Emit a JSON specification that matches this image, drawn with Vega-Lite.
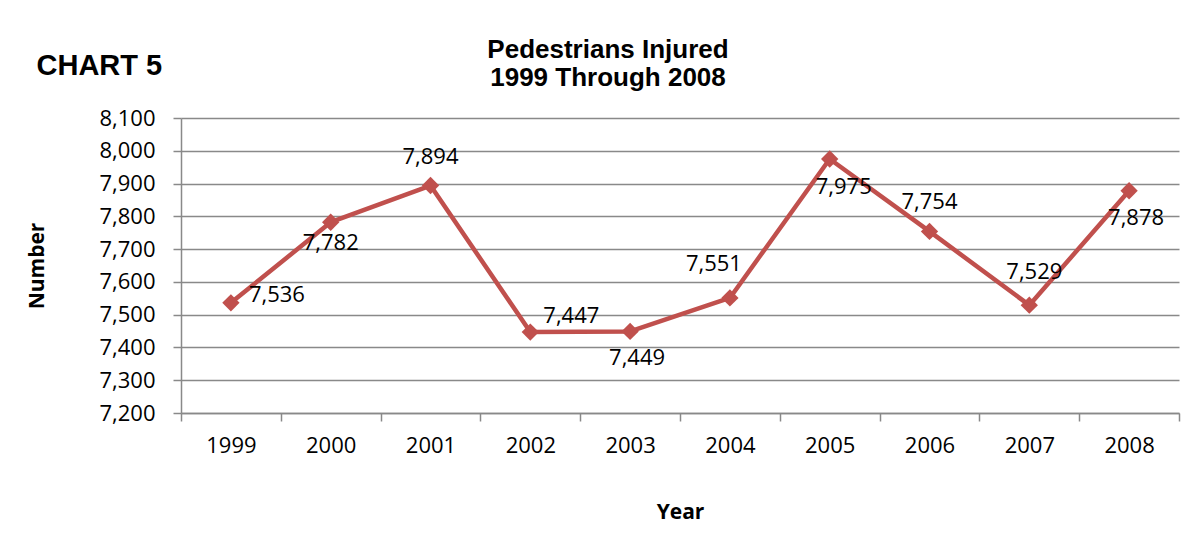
{
  "$schema": "https://vega.github.io/schema/vega-lite/v6.json",
  "width": 998,
  "height": 295,
  "autosize": {"type": "none"},
  "padding": {"left": 181, "top": 118, "right": 17, "bottom": 124},
  "background": "white",
  "config": {"view": {"stroke": null}},
  "title": {
    "text": ["Pedestrians Injured", "1999 Through 2008"],
    "anchor": "middle",
    "frame": "group",
    "dx": -72,
    "offset": -40,
    "font": "Liberation Sans",
    "fontSize": 26,
    "fontWeight": "bold",
    "lineHeight": 28,
    "color": "black"
  },
  "data": {
    "values": [
      {"year": "1999", "injured": 7536},
      {"year": "2000", "injured": 7782},
      {"year": "2001", "injured": 7894},
      {"year": "2002", "injured": 7447},
      {"year": "2003", "injured": 7449},
      {"year": "2004", "injured": 7551},
      {"year": "2005", "injured": 7975},
      {"year": "2006", "injured": 7754},
      {"year": "2007", "injured": 7529},
      {"year": "2008", "injured": 7878}
    ]
  },
  "resolve": {"axis": {"x": "independent", "y": "independent"}},
  "layer": [
    {
      "mark": {"type": "line", "color": "#C0504D", "strokeWidth": 4.5, "strokeJoin": "round"},
      "encoding": {
        "x": {
          "field": "year", "type": "ordinal",
          "scale": {"type": "band", "paddingInner": 0, "paddingOuter": 0},
          "axis": {
            "orient": "bottom", "title": "Year", "tickBand": "extent", "labelAngle": 0,
            "grid": false, "tickSize": 8, "tickColor": "#898989", "tickWidth": 1.5,
            "domainColor": "#898989", "domainWidth": 1.5,
            "labelFont": "Open Sans", "labelFontSize": 22, "labelColor": "black", "labelPadding": 14,
            "titleFont": "Open Sans", "titleFontSize": 21, "titleFontWeight": "bold", "titleColor": "black", "titlePadding": 45
          }
        },
        "y": {
          "field": "injured", "type": "quantitative",
          "scale": {"domain": [7200, 8100], "nice": false, "zero": false},
          "axis": {
            "title": "Number", "values": [7200, 7300, 7400, 7500, 7600, 7700, 7800, 7900, 8000, 8100], "format": ",.0f",
            "grid": true, "gridColor": "#898989", "gridWidth": 1.5,
            "domainColor": "#898989", "domainWidth": 1.5,
            "tickColor": "#898989", "tickSize": 8, "tickWidth": 1.5,
            "labelFont": "Open Sans", "labelFontSize": 22, "labelColor": "black", "labelPadding": 18,
            "titleFont": "Open Sans", "titleFontSize": 21, "titleFontWeight": "bold", "titleColor": "black", "titlePadding": 51
          }
        }
      }
    },
    {
      "mark": {"type": "point", "shape": "diamond", "filled": true, "size": 300, "color": "#C0504D", "opacity": 1},
      "encoding": {
        "x": {
          "field": "year", "type": "ordinal",
          "axis": {
            "orient": "top", "title": "CHART 5", "labels": false, "ticks": false, "domain": false, "grid": false,
            "titleX": -145, "titleY": -44, "titleAlign": "left", "titleBaseline": "alphabetic", "titleAngle": 0,
            "titleFont": "Liberation Sans", "titleFontSize": 29, "titleFontWeight": "bold", "titleColor": "black"
          }
        },
        "y": {"field": "injured", "type": "quantitative", "axis": null}
      }
    },
    {
      "transform": [{"filter": {"field": "year", "oneOf": ["1999"]}}],
      "mark": {"type": "text", "font": "Open Sans", "fontSize": 22, "color": "black", "baseline": "middle", "align": "center", "dx": 46, "dy": -8},
      "encoding": {
        "x": {"field": "year", "type": "ordinal", "axis": null},
        "y": {"field": "injured", "type": "quantitative", "axis": null},
        "text": {"field": "injured", "type": "quantitative", "format": ",.0f"}
      }
    },
    {
      "transform": [{"filter": {"field": "year", "oneOf": ["2000"]}}],
      "mark": {"type": "text", "font": "Open Sans", "fontSize": 22, "color": "black", "baseline": "middle", "align": "center", "dx": 0, "dy": 21},
      "encoding": {
        "x": {"field": "year", "type": "ordinal", "axis": null},
        "y": {"field": "injured", "type": "quantitative", "axis": null},
        "text": {"field": "injured", "type": "quantitative", "format": ",.0f"}
      }
    },
    {
      "transform": [{"filter": {"field": "year", "oneOf": ["2001", "2006"]}}],
      "mark": {"type": "text", "font": "Open Sans", "fontSize": 22, "color": "black", "baseline": "middle", "align": "center", "dx": 0, "dy": -29},
      "encoding": {
        "x": {"field": "year", "type": "ordinal", "axis": null},
        "y": {"field": "injured", "type": "quantitative", "axis": null},
        "text": {"field": "injured", "type": "quantitative", "format": ",.0f"}
      }
    },
    {
      "transform": [{"filter": {"field": "year", "oneOf": ["2002"]}}],
      "mark": {"type": "text", "font": "Open Sans", "fontSize": 22, "color": "black", "baseline": "middle", "align": "center", "dx": 41, "dy": -16},
      "encoding": {
        "x": {"field": "year", "type": "ordinal", "axis": null},
        "y": {"field": "injured", "type": "quantitative", "axis": null},
        "text": {"field": "injured", "type": "quantitative", "format": ",.0f"}
      }
    },
    {
      "transform": [{"filter": {"field": "year", "oneOf": ["2003", "2008"]}}],
      "mark": {"type": "text", "font": "Open Sans", "fontSize": 22, "color": "black", "baseline": "middle", "align": "center", "dx": 7, "dy": 27},
      "encoding": {
        "x": {"field": "year", "type": "ordinal", "axis": null},
        "y": {"field": "injured", "type": "quantitative", "axis": null},
        "text": {"field": "injured", "type": "quantitative", "format": ",.0f"}
      }
    },
    {
      "transform": [{"filter": {"field": "year", "oneOf": ["2004"]}}],
      "mark": {"type": "text", "font": "Open Sans", "fontSize": 22, "color": "black", "baseline": "middle", "align": "center", "dx": -16, "dy": -34},
      "encoding": {
        "x": {"field": "year", "type": "ordinal", "axis": null},
        "y": {"field": "injured", "type": "quantitative", "axis": null},
        "text": {"field": "injured", "type": "quantitative", "format": ",.0f"}
      }
    },
    {
      "transform": [{"filter": {"field": "year", "oneOf": ["2005"]}}],
      "mark": {"type": "text", "font": "Open Sans", "fontSize": 22, "color": "black", "baseline": "middle", "align": "center", "dx": 14, "dy": 28},
      "encoding": {
        "x": {"field": "year", "type": "ordinal", "axis": null},
        "y": {"field": "injured", "type": "quantitative", "axis": null},
        "text": {"field": "injured", "type": "quantitative", "format": ",.0f"}
      }
    },
    {
      "transform": [{"filter": {"field": "year", "oneOf": ["2007"]}}],
      "mark": {"type": "text", "font": "Open Sans", "fontSize": 22, "color": "black", "baseline": "middle", "align": "center", "dx": 5, "dy": -33},
      "encoding": {
        "x": {"field": "year", "type": "ordinal", "axis": null},
        "y": {"field": "injured", "type": "quantitative", "axis": null},
        "text": {"field": "injured", "type": "quantitative", "format": ",.0f"}
      }
    }
  ]
}
